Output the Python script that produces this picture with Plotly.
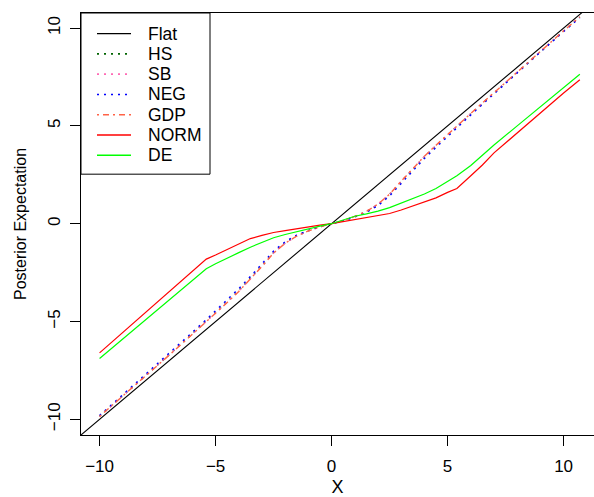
import plotly.graph_objects as go

# observed X grid
x_vals = [-10, -9, -8, -7, -6, -5.4, -5, -4.5, -4, -3.5, -3, -2.5, -2, -1.5, -1, -0.5,
          0, 0.5, 1, 1.5, 2, 2.5, 3, 3.5, 4, 4.5, 5, 5.4, 6, 6.5, 7, 8, 9, 10, 10.7]

hs = [-9.84, -8.80, -7.75, -6.70, -5.62, -4.98, -4.55, -4.00, -3.42, -2.80, -2.15, -1.48, -0.98, -0.62, -0.36, -0.16,
      0.0, 0.16, 0.36, 0.62, 0.98, 1.50, 2.15, 2.80, 3.42, 3.98, 4.55, 4.98, 5.62, 6.15, 6.68, 7.75, 8.80, 9.85, 10.56]
sb = [-9.85, -8.81, -7.76, -6.71, -5.64, -5.00, -4.57, -4.02, -3.45, -2.83, -2.18, -1.50, -1.00, -0.63, -0.37, -0.16,
      0.0, 0.16, 0.37, 0.63, 1.00, 1.52, 2.17, 2.82, 3.44, 4.00, 4.56, 4.99, 5.63, 6.16, 6.69, 7.76, 8.81, 9.86, 10.57]
neg = [-9.80, -8.75, -7.70, -6.64, -5.55, -4.90, -4.46, -3.90, -3.32, -2.70, -2.05, -1.40, -0.92, -0.58, -0.34, -0.15,
       0.0, 0.15, 0.34, 0.58, 0.92, 1.42, 2.06, 2.71, 3.33, 3.90, 4.47, 4.91, 5.56, 6.10, 6.64, 7.71, 8.77, 9.82, 10.53]
gdp = [-9.85, -8.82, -7.77, -6.72, -5.65, -5.01, -4.58, -4.03, -3.46, -2.84, -2.18, -1.50, -1.00, -0.63, -0.37, -0.16,
       0.0, 0.16, 0.37, 0.63, 1.00, 1.51, 2.17, 2.83, 3.45, 4.01, 4.57, 5.00, 5.64, 6.17, 6.70, 7.77, 8.82, 9.86, 10.57]
norm = [-6.60, -5.56, -4.52, -3.48, -2.44, -1.81, -1.60, -1.33, -1.06, -0.76, -0.60, -0.45, -0.35, -0.25, -0.15, -0.07,
        0.0, 0.10, 0.22, 0.32, 0.40, 0.52, 0.70, 0.90, 1.10, 1.32, 1.60, 1.80, 2.45, 3.00, 3.62, 4.65, 5.65, 6.68, 7.36]
de = [-6.89, -5.90, -4.90, -3.90, -2.90, -2.30, -2.05, -1.75, -1.48, -1.20, -0.95, -0.72, -0.55, -0.40, -0.25, -0.12,
      0.0, 0.20, 0.38, 0.50, 0.64, 0.82, 1.05, 1.30, 1.52, 1.80, 2.15, 2.45, 2.98, 3.50, 4.02, 5.00, 5.98, 6.96, 7.64]

# flat prior: posterior expectation equals X (identity line across the whole panel)
flat_x = [-11, 12]
flat_y = [-11, 12]

series_names = ["Flat", "HS", "SB", "NEG", "GDP", "NORM", "DE"]

x_ticks = [-10, -5, 0, 5, 10]
y_ticks = [-10, -5, 0, 5, 10]

FONT = "Liberation Sans, Arial, Helvetica, sans-serif"
DOT = "2px,5px"
DOTDASH = "2px,4px,6px,4px"

styles = {
    "Flat": dict(color="black", width=1.1),
    "HS": dict(color="darkgreen", width=1.4, dash=DOT),
    "SB": dict(color="hotpink", width=1.4, dash=DOT),
    "NEG": dict(color="blue", width=1.4, dash=DOT),
    "GDP": dict(color="tomato", width=1.4, dash=DOTDASH),
    "NORM": dict(color="red", width=1.2),
    "DE": dict(color="#00ff00", width=1.2),
}

data = {
    "Flat": (flat_x, flat_y),
    "HS": (x_vals, hs),
    "SB": (x_vals, sb),
    "NEG": (x_vals, neg),
    "GDP": (x_vals, gdp),
    "NORM": (x_vals, norm),
    "DE": (x_vals, de),
}

fig = go.Figure()
for name in series_names:
    xs, ys = data[name]
    fig.add_trace(go.Scatter(x=xs, y=ys, mode="lines", name=name,
                             line=styles[name], showlegend=False))

# ---- legend box drawn in plot-area (paper) coordinates ----
PLOT_L, PLOT_T, PLOT_W, PLOT_H = 81, 12.7, 513, 422.3


def px(xp):
    return (xp - PLOT_L) / PLOT_W


def py(yp):
    return 1 - (yp - PLOT_T) / PLOT_H


shapes = [dict(type="rect", xref="paper", yref="paper",
               x0=px(81), x1=px(210), y0=py(174), y1=py(12.7),
               line=dict(color="black", width=1), fillcolor="white", layer="above")]
annotations = []
for i, name in enumerate(series_names):
    yc = 33.3 + 20.3 * i
    st = styles[name]
    shapes.append(dict(type="line", xref="paper", yref="paper",
                       x0=px(97), x1=px(131), y0=py(yc), y1=py(yc),
                       line=dict(color=st["color"], width=st["width"] + 0.2,
                                 dash=st.get("dash", "solid")),
                       layer="above"))
    annotations.append(dict(text=name, xref="paper", yref="paper",
                            x=px(146), y=py(yc), xanchor="left", yanchor="middle",
                            showarrow=False, font=dict(size=17.5, color="black")))

fig.update_layout(
    width=594, height=497,
    margin=dict(l=81, r=0, t=12.7, b=62),
    plot_bgcolor="white", paper_bgcolor="white",
    font=dict(family=FONT, size=17, color="black"),
    showlegend=False,
    shapes=shapes,
    annotations=annotations,
    xaxis=dict(range=[-10.8, 11.31], tickvals=x_ticks, showgrid=False, zeroline=False,
               showline=True, linecolor="black", linewidth=1, mirror=True,
               ticks="outside", ticklen=10, tickcolor="black", automargin=False,
               ticklabelstandoff=6,
               title=dict(text="X", standoff=4, font=dict(size=18)),
               tickfont=dict(size=17)),
    yaxis=dict(range=[-10.8, 10.77], tickvals=y_ticks, showgrid=False, zeroline=False,
               showline=True, linecolor="black", linewidth=1,
               ticks="outside", ticklen=10, tickcolor="black", tickangle=-90,
               automargin=False, ticklabelstandoff=3,
               title=dict(text="Posterior Expectation", standoff=14, font=dict(size=16)),
               tickfont=dict(size=17)),
)

fig.write_html("out.html",
               config={"displayModeBar": False},
               post_script="document.body.style.margin='0px';document.body.style.overflow='hidden';")
